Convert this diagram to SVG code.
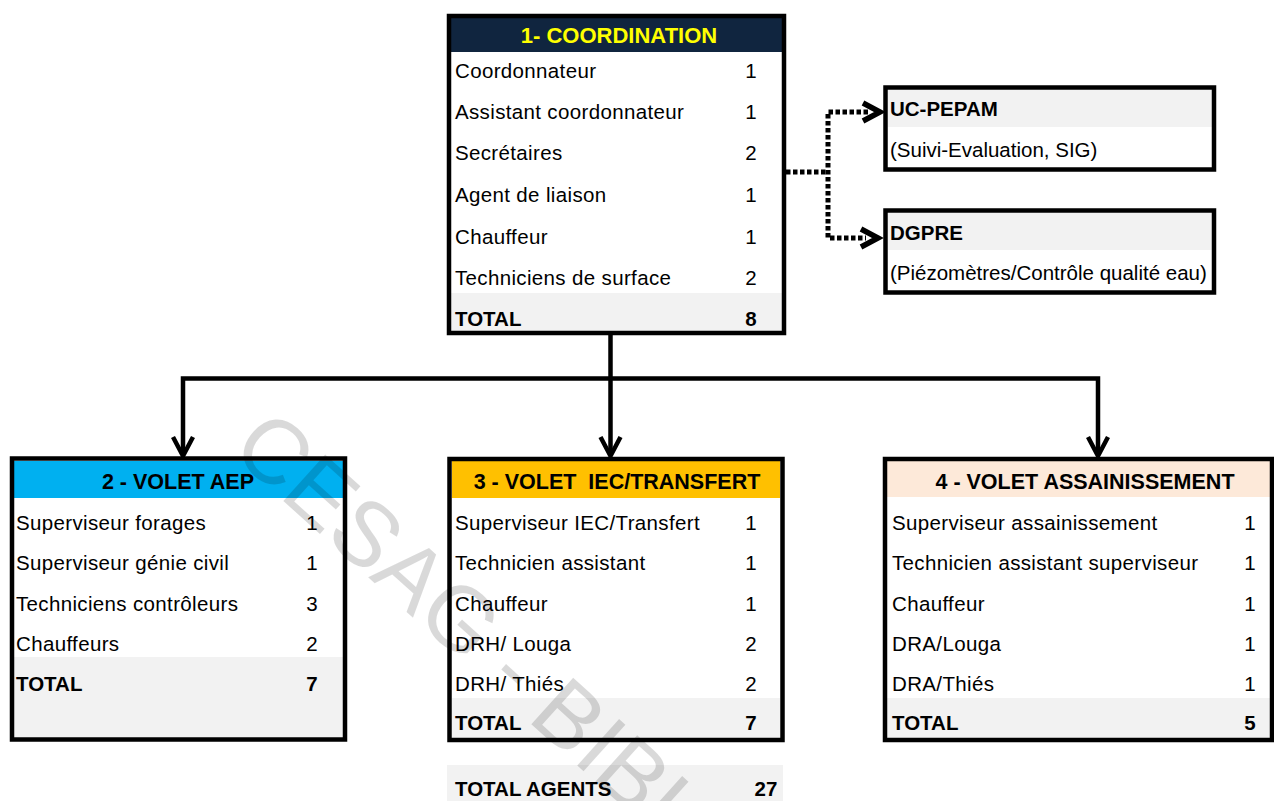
<svg xmlns="http://www.w3.org/2000/svg" width="1274" height="801" viewBox="0 0 1274 801">
<style>
.bd{fill:none;stroke:#000;stroke-width:4.5}
.t{font-family:"Liberation Sans",Arial,sans-serif;font-size:20.5px;fill:#000}
.r{letter-spacing:0.35px}
.b{font-weight:bold}
.h{font-family:"Liberation Sans",Arial,sans-serif;font-size:21.5px;font-weight:bold;text-anchor:middle;fill:#000}
.n{text-anchor:middle}
.g{fill:#F2F2F2}
.w{fill:#FFFFFF}
.ln{fill:none;stroke:#000;stroke-width:4.5}
.dt{fill:none;stroke:#000;stroke-width:5;stroke-dasharray:4.5 2.5}
.ah{fill:none;stroke:#000;stroke-width:4.5;stroke-linejoin:miter}
.ah2{fill:none;stroke:#000;stroke-width:5.5;stroke-linejoin:miter}
</style>
<rect x="0" y="0" width="1274" height="801" fill="#FFFFFF"/>

<g id="connectors">
  <path class="ln" d="M610.5 335 V455"/>
  <path class="ln" d="M183 455 V378.5 H1098 V455"/>
  <polyline class="ah" points="173,437 183,456 193,437"/>
  <polyline class="ah" points="600.5,437 610.5,456 620.5,437"/>
  <polyline class="ah" points="1088,437 1098,456 1108,437"/>
  <path class="dt" d="M786 172 H828"/>
  <path class="dt" d="M868 112 H828 V238 H866"/>
  <polyline class="ah2" points="863,103 880,112 863,121"/>
  <polyline class="ah2" points="861,229 878,238 861,247"/>
</g>

<g id="coordination">
  <rect class="w" x="449" y="16" width="335" height="317"/>
  <rect x="451" y="18" width="331" height="34" fill="#10253F"/>
  <rect class="g" x="451" y="293" width="331" height="38"/>
  <rect class="bd" x="449" y="16" width="335" height="317"/>
  <text class="h" x="619" y="42.5" style="font-size:22px;fill:#FFFF00">1- COORDINATION</text>
  <text class="t r" x="455" y="77.5">Coordonnateur</text><text class="t n" x="751" y="77.5">1</text>
  <text class="t r" x="455" y="118.5">Assistant coordonnateur</text><text class="t n" x="751" y="118.5">1</text>
  <text class="t r" x="455" y="159.5">Secrétaires</text><text class="t n" x="751" y="159.5">2</text>
  <text class="t r" x="455" y="201.5">Agent de liaison</text><text class="t n" x="751" y="201.5">1</text>
  <text class="t r" x="455" y="243.5">Chauffeur</text><text class="t n" x="751" y="243.5">1</text>
  <text class="t r" x="455" y="284.5">Techniciens de surface</text><text class="t n" x="751" y="284.5">2</text>
  <text class="t b" x="455" y="326">TOTAL</text><text class="t b n" x="751" y="326">8</text>
</g>

<g id="uc-pepam">
  <rect class="w" x="885.5" y="87.5" width="328.5" height="82"/>
  <rect class="g" x="888" y="90" width="324" height="37"/>
  <rect class="bd" x="885.5" y="87.5" width="328.5" height="82"/>
  <text class="t b" x="890" y="116">UC-PEPAM</text>
  <text class="t" x="890" y="157">(Suivi-Evaluation, SIG)</text>
</g>

<g id="dgpre">
  <rect class="w" x="885.5" y="210.5" width="328.5" height="82"/>
  <rect class="g" x="888" y="213" width="324" height="37"/>
  <rect class="bd" x="885.5" y="210.5" width="328.5" height="82"/>
  <text class="t b" x="890" y="240">DGPRE</text>
  <text class="t" x="890" y="280">(Piézomètres/Contrôle qualité eau)</text>
</g>

<g id="volet-aep">
  <rect class="w" x="12" y="458.5" width="333" height="281"/>
  <rect x="14" y="461" width="329" height="37" fill="#00B0F0"/>
  <rect class="g" x="14" y="657" width="329" height="80.5"/>
  <rect class="bd" x="12" y="458.5" width="333" height="281"/>
  <text class="h" x="178" y="489">2 - VOLET AEP</text>
  <text class="t r" x="16" y="530">Superviseur forages</text><text class="t n" x="312" y="530">1</text>
  <text class="t r" x="16" y="570">Superviseur génie civil</text><text class="t n" x="312" y="570">1</text>
  <text class="t r" x="16" y="611">Techniciens contrôleurs</text><text class="t n" x="312" y="611">3</text>
  <text class="t r" x="16" y="651">Chauffeurs</text><text class="t n" x="312" y="651">2</text>
  <text class="t b" x="16" y="691">TOTAL</text><text class="t b n" x="312" y="691">7</text>
</g>

<g id="volet-iec">
  <rect class="w" x="449.5" y="459" width="333" height="281"/>
  <rect x="452" y="461" width="328" height="37" fill="#FFC000"/>
  <rect class="g" x="452" y="698" width="328" height="40"/>
  <rect class="bd" x="449.5" y="459" width="333" height="281"/>
  <text class="h" x="617" y="489" xml:space="preserve">3 - VOLET  IEC/TRANSFERT</text>
  <text class="t r" x="455" y="530">Superviseur IEC/Transfert</text><text class="t n" x="751" y="530">1</text>
  <text class="t r" x="455" y="570">Technicien assistant</text><text class="t n" x="751" y="570">1</text>
  <text class="t r" x="455" y="611">Chauffeur</text><text class="t n" x="751" y="611">1</text>
  <text class="t r" x="455" y="651">DRH/ Louga</text><text class="t n" x="751" y="651">2</text>
  <text class="t r" x="455" y="691">DRH/ Thiés</text><text class="t n" x="751" y="691">2</text>
  <text class="t b" x="455" y="730">TOTAL</text><text class="t b n" x="751" y="730">7</text>
</g>

<g id="volet-assainissement">
  <rect class="w" x="885" y="459" width="387" height="281"/>
  <rect x="887" y="461" width="383" height="36" fill="#FDE9D9"/>
  <rect class="g" x="887" y="698" width="383" height="40"/>
  <rect class="bd" x="885" y="459" width="387" height="281"/>
  <text class="h" x="1085" y="489">4 - VOLET ASSAINISSEMENT</text>
  <text class="t r" x="892" y="530">Superviseur assainissement</text><text class="t n" x="1250" y="530">1</text>
  <text class="t r" x="892" y="570">Technicien assistant superviseur</text><text class="t n" x="1250" y="570">1</text>
  <text class="t r" x="892" y="611">Chauffeur</text><text class="t n" x="1250" y="611">1</text>
  <text class="t r" x="892" y="651">DRA/Louga</text><text class="t n" x="1250" y="651">1</text>
  <text class="t r" x="892" y="691">DRA/Thiés</text><text class="t n" x="1250" y="691">1</text>
  <text class="t b" x="892" y="730">TOTAL</text><text class="t b n" x="1250" y="730">5</text>
</g>

<g id="total-agents">
  <rect class="g" x="447" y="765" width="336" height="36"/>
  <text class="t b" x="455" y="796">TOTAL AGENTS</text>
  <text class="t b n" x="766" y="796">27</text>
</g>

<g id="watermark">
  <text x="229" y="452" transform="rotate(42 229 452)" style="font-family:'Liberation Sans',Arial,sans-serif;font-size:91px" fill="#000" fill-opacity="0.15">CESAG - BIBL</text>
</g>
</svg>
